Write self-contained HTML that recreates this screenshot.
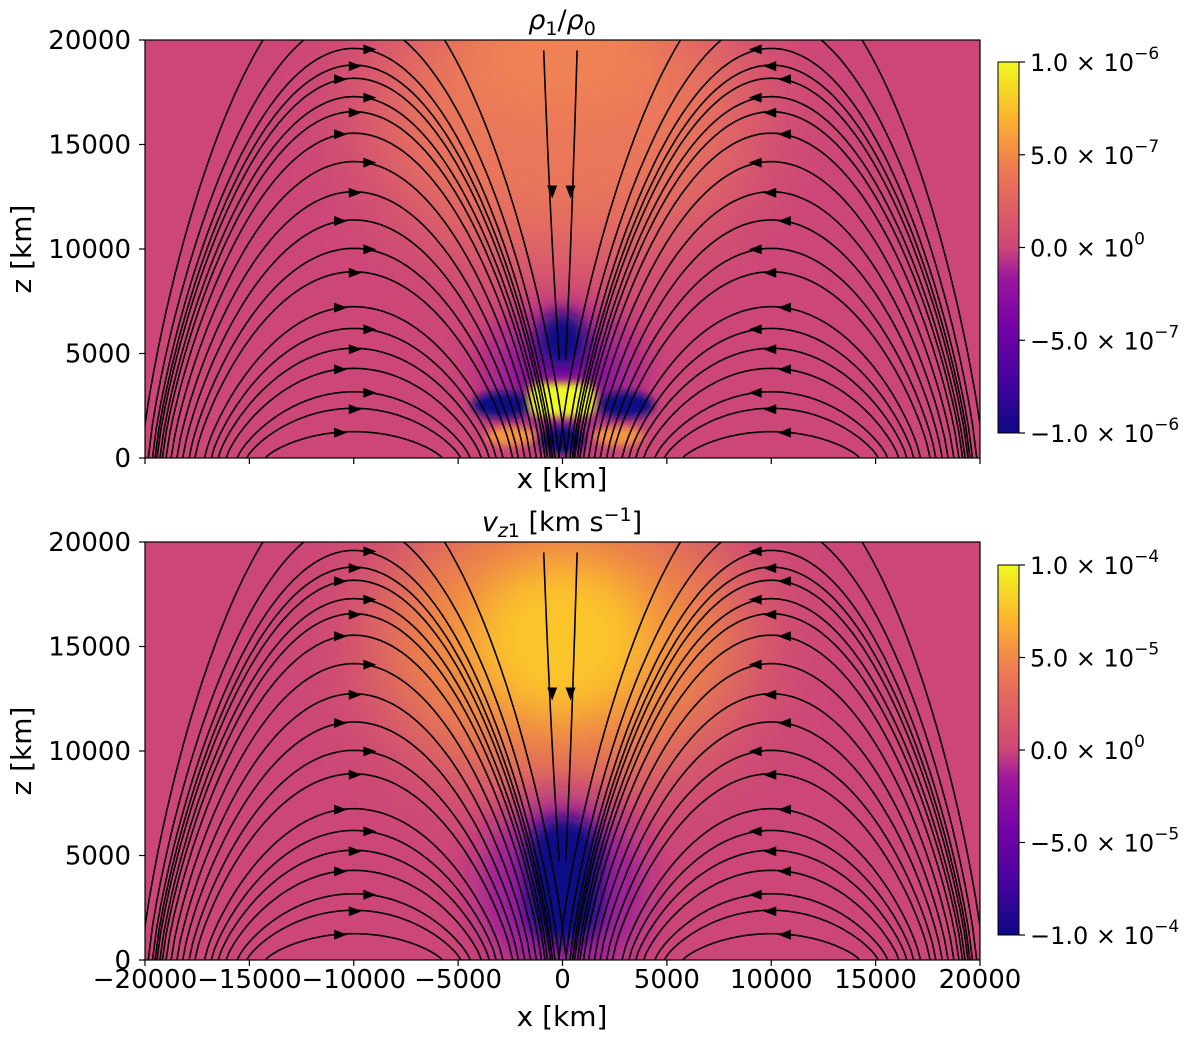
<!DOCTYPE html>
<html><head><meta charset="utf-8"><style>
body{margin:0;background:#fff;width:1200px;height:1043px;overflow:hidden}
svg text{font-family:"DejaVu Sans","Liberation Sans",sans-serif;fill:#000}
</style></head><body>
<svg id="s" width="1200" height="1043" xmlns="http://www.w3.org/2000/svg">
<defs>
<linearGradient id="plasma" x1="0" y1="1" x2="0" y2="0">
<stop offset="0" stop-color="#0d0887"/><stop offset="0.14" stop-color="#47039f"/><stop offset="0.28" stop-color="#7301a8"/><stop offset="0.42" stop-color="#9c179e"/><stop offset="0.5" stop-color="#cc4778"/><stop offset="0.57" stop-color="#d8576b"/><stop offset="0.71" stop-color="#ed7953"/><stop offset="0.85" stop-color="#fdb42f"/><stop offset="1" stop-color="#f0f921"/>
</linearGradient>
<filter id="b8" x="-50%" y="-50%" width="200%" height="200%"><feGaussianBlur stdDeviation="8"/></filter>
<filter id="b20" x="-50%" y="-50%" width="200%" height="200%"><feGaussianBlur stdDeviation="22"/></filter>
<filter id="b45" x="-50%" y="-50%" width="200%" height="200%"><feGaussianBlur stdDeviation="45"/></filter>
<filter id="b4" x="-50%" y="-50%" width="200%" height="200%"><feGaussianBlur stdDeviation="4"/></filter>
<clipPath id="c1"><rect x="145" y="40" width="835" height="418"/></clipPath>
<clipPath id="c2"><rect x="145" y="542" width="835" height="418"/></clipPath>
</defs>

<g clip-path="url(#c1)">
<rect x="145" y="40" width="835" height="418" fill="#cc4778"/>
<ellipse cx="562" cy="110" rx="190" ry="150" fill="#ec7a58" filter="url(#b45)" opacity="0.95"/>
<ellipse cx="562" cy="60" rx="90" ry="50" fill="#ef8255" filter="url(#b20)"/>
<ellipse cx="562" cy="375" rx="75" ry="60" fill="#8e10a0" filter="url(#b20)"/>
<ellipse cx="562" cy="340" rx="24" ry="28" fill="#0d0887" filter="url(#b8)"/>
<ellipse cx="502" cy="405" rx="30" ry="13" fill="#0d0887" filter="url(#b4)"/>
<ellipse cx="626" cy="405" rx="28" ry="13" fill="#0d0887" filter="url(#b4)"/>
<ellipse cx="512" cy="436" rx="26" ry="10" fill="#f7953f" filter="url(#b4)"/>
<ellipse cx="618" cy="436" rx="26" ry="10" fill="#f7953f" filter="url(#b4)"/>
<ellipse cx="562" cy="440" rx="22" ry="14" fill="#0d0887" filter="url(#b4)"/>
<rect x="528" y="383" width="68" height="34" rx="12" fill="#f0f921" filter="url(#b4)"/>
</g>
<g clip-path="url(#c2)">
<rect x="145" y="542" width="835" height="418" fill="#cc4778"/>
<ellipse cx="562" cy="640" rx="180" ry="140" fill="#f3903f" filter="url(#b45)"/>
<ellipse cx="562" cy="640" rx="85" ry="75" fill="#fcc52a" filter="url(#b20)"/>
<ellipse cx="562" cy="890" rx="80" ry="90" fill="#9012a0" filter="url(#b20)"/>
<rect x="528" y="818" width="72" height="125" rx="34" fill="#0d0887" filter="url(#b8)"/>
</g>
<g id="lines1" clip-path="url(#c1)"></g>
<g id="lines2" clip-path="url(#c2)"></g>
<rect x="145" y="40" width="835" height="418" fill="none" stroke="#000" stroke-width="1.2"/>
<rect x="145" y="542" width="835" height="418" fill="none" stroke="#000" stroke-width="1.2"/>
<g id="ax"></g>

<text x="562" y="29" font-size="27" text-anchor="middle" font-style="italic">ρ<tspan font-size="19" dy="6" font-style="normal">1</tspan><tspan dy="-6" font-style="normal">/</tspan>ρ<tspan font-size="19" dy="6" font-style="normal">0</tspan></text>
<text x="562" y="531" font-size="27" text-anchor="middle"><tspan font-style="italic">v</tspan><tspan font-size="19" dy="6" font-style="italic">z</tspan><tspan font-size="19">1</tspan><tspan dy="-6"> [km s</tspan><tspan font-size="19" dy="-10">−1</tspan><tspan dy="10">]</tspan></text>
<text x="562" y="488" font-size="28" text-anchor="middle">x [km]</text>
<text x="562" y="1026" font-size="28" text-anchor="middle">x [km]</text>
<text transform="translate(31,249) rotate(-90)" font-size="28" text-anchor="middle">z [km]</text>
<text transform="translate(31,751) rotate(-90)" font-size="28" text-anchor="middle">z [km]</text>

<rect x="998" y="62" width="21" height="371" fill="url(#plasma)" stroke="#000" stroke-width="1"/>
<rect x="998" y="565" width="21" height="370" fill="url(#plasma)" stroke="#000" stroke-width="1"/>
<g id="cb"></g>
</svg>
<script>
const archHeights=[1260,2380,3170,4290,5250,6200,7240,8910,10030,11390,12740,14180,15540,16570,17290,18170,18800,19600,21000,23500];
const xTicks=[-20000,-15000,-10000,-5000,0,5000,10000,15000,20000];
const zTicks=[0,5000,10000,15000,20000];
const cbTop=["1.0 × 10","5.0 × 10","0.0 × 10","−5.0 × 10","−1.0 × 10"];
const cbTopExp=["−6","−7","0","−7","−6"];
const cbBotExp=["−4","−5","0","−5","−4"];
const NS='http://www.w3.org/2000/svg';
const X0=145,X1=980;
function sx(x){return X0+(x+20000)/40000*(X1-X0);}
function panel(top){const b=top+418;return z=>b-z/20000*418;}
function mk(tag,attrs,parent){const e=document.createElementNS(NS,tag);for(const k in attrs)e.setAttribute(k,attrs[k]);parent.appendChild(e);return e;}
function halfWidth(h){return 9700*Math.pow(h/20000,0.3);}
function drawLines(g,top){
  const sz=panel(top);
  archHeights.forEach((h,i)=>{
    const a=halfWidth(h);
    [[-10000,1],[10000,-1]].forEach(([xc,dir])=>{
      let d='';
      for(let k=0;k<=100;k++){const t=-1+2*k/100;const x=xc+a*t;const z=h*Math.pow(Math.max(0,1-t*t),0.8);d+=(k?'L':'M')+sx(x).toFixed(1)+','+sz(z).toFixed(1);}
      const p=mk('path',{d:d,fill:'none',stroke:'#000','stroke-width':1.6},g);
      
      
      if(h<20000){const ax=sx(xc+dir*(i%3-1)*700),ay=sz(h)+1;
        const tri=mk('path',{d:`M${ax+8*dir},${ay} L${ax-5*dir},${ay-5} L${ax-5*dir},${ay+5} Z`,fill:'#000'},g);
        
        }
    });
  });
  [[-900,-150],[700,150]].forEach(([xt,xb])=>{
    const p=mk('path',{d:`M${sx(xt)},${sz(19500)} Q${sx(xt*0.6)},${sz(10000)} ${sx(xb)},${sz(4700)}`,fill:'none',stroke:'#000','stroke-width':1.6},g);
    
    
    const ax=sx(xt*0.55),ay=sz(12800);
    const tri=mk('path',{d:`M${ax},${ay+8} L${ax-5},${ay-5} L${ax+5},${ay-5} Z`,fill:'#000'},g);
    
    
  });
}
drawLines(document.getElementById('lines1'),40);
drawLines(document.getElementById('lines2'),542);
const ax=document.getElementById('ax');
[40,542].forEach((top,pi)=>{
  const sz=panel(top);
  xTicks.forEach(v=>{const l=mk('line',{x1:sx(v),x2:sx(v),y1:top+418,y2:top+424,stroke:'#000','stroke-width':1.2},ax);
    
    
    if(pi===1){const t=mk('text',{x:sx(v),y:top+446,'font-size':26,'text-anchor':'middle'},ax);t.textContent=(v<0?'−':'')+Math.abs(v);
      
      }
  });
  zTicks.forEach(v=>{const l=mk('line',{x1:139,x2:145,y1:sz(v),y2:sz(v),stroke:'#000','stroke-width':1.2},ax);
    
    
    const t=mk('text',{x:131,y:sz(v)+9,'font-size':26,'text-anchor':'end'},ax);t.textContent=v;
    
    });
});
const cb=document.getElementById('cb');
[[62,433,cbTopExp],[565,935,cbBotExp]].forEach(([y0,y1,ex])=>{
  cbTop.forEach((s,i)=>{const y=y0+(y1-y0)*i/4;
    const l=mk('line',{x1:1019,x2:1025,y1:y,y2:y,stroke:'#000','stroke-width':1.2},cb);
    
    
    const t=mk('text',{x:1030,y:y+9,'font-size':24},cb);
    
    
    t.textContent=s;const sp=mk('tspan',{dy:-12,'font-size':17},t);sp.textContent=ex[i];});
});
</script>
</body></html>
